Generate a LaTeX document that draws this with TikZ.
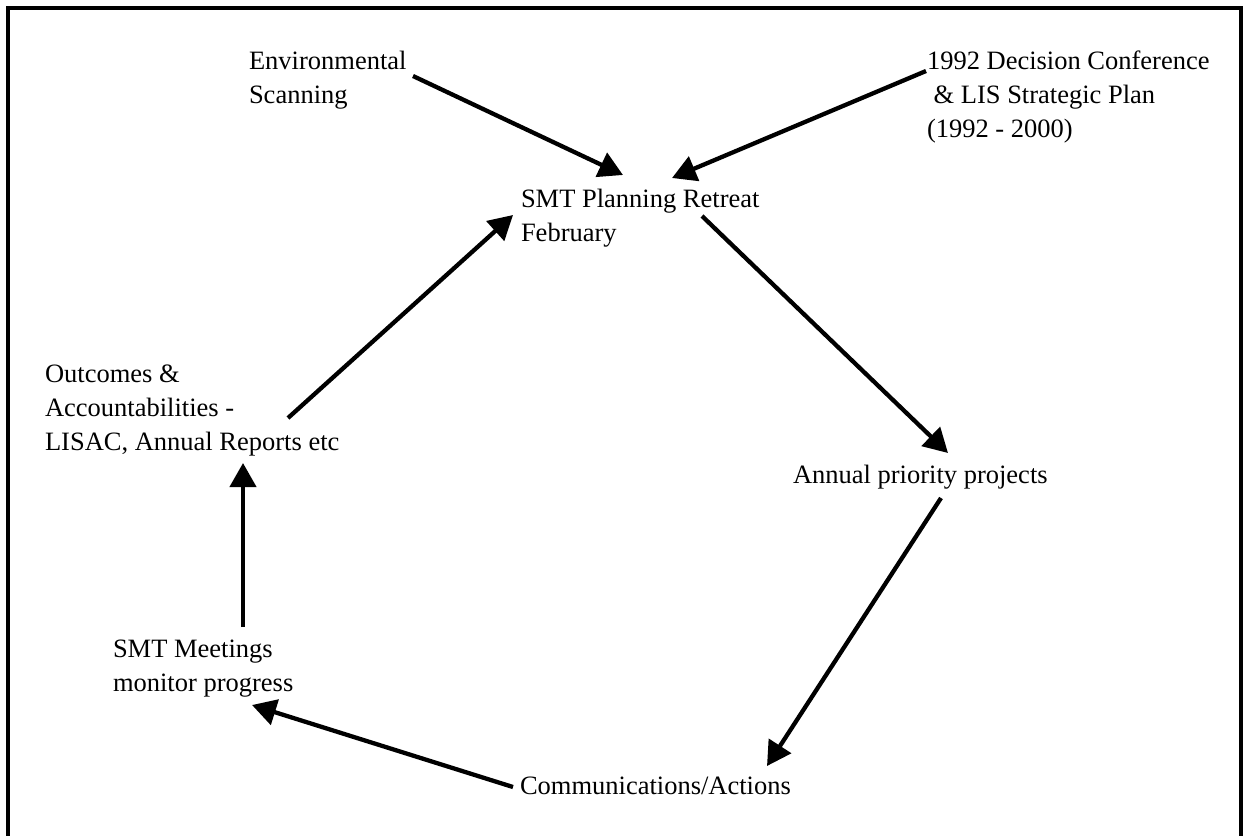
\documentclass[tikz,border=0pt]{standalone}
\usepackage{fontspec}
\setmainfont{Liberation Serif}
\usetikzlibrary{arrows.meta}
\begin{document}
\begin{tikzpicture}[x=1pt,y=-1pt,
  lbl/.style={anchor=base west,inner sep=0pt,outer sep=0pt,align=left,
    font=\fontsize{26.5}{34}\selectfont},
  flow/.style={line width=4.3pt,-{Triangle[length=24pt,width=26pt]}},
  frame/.style={line width=4pt}]
  \useasboundingbox (0,0) rectangle (1249,835);
  \clip (0,0) rectangle (1249,835);
  % open frame around the cycle
  \draw[frame] (8,850) -- (8,8) -- (1240.5,8) -- (1240.5,850);

  % labels (each placed at the baseline of its last line)
  \node[lbl] (env) at (249,103) {Environmental\\Scanning};
  \node[lbl] (dec) at (927,137)
    {1992 Decision Conference\\\hspace*{0.25em}\& LIS Strategic Plan\\(1992 - 2000)};
  \node[lbl] (smt) at (521,241) {SMT Planning Retreat\\February};
  \node[lbl] (ann) at (793,483) {Annual priority projects};
  \node[lbl] (com) at (520,794) {Communications/Actions};
  \node[lbl] (mtg) at (113,691) {SMT Meetings\\monitor progress};
  \node[lbl] (out) at (45,450) {Outcomes \&\\Accountabilities -\\LISAC, Annual Reports etc};

  % connectors
  \draw[flow] ([shift={(164,-27)}]env.base west) -- ([shift={(102,-66)}]smt.base west);
  \draw[flow] ([shift={(-1,-66)}]dec.base west) -- ([shift={(151,-63)}]smt.base west);
  \draw[flow] ([shift={(181,-25)}]smt.base west) -- ([shift={(155,-30)}]ann.base west);
  \draw[flow] ([shift={(148,15)}]ann.base west) -- ([shift={(247,-28)}]com.base west);
  \draw[flow] ([shift={(-7,-7)}]com.base west) -- ([shift={(139,14)}]mtg.base west);
  \draw[flow] ([shift={(130,-64)}]mtg.base west) -- ([shift={(198,13)}]out.base west);
  \draw[flow] ([shift={(243,-32)}]out.base west) -- ([shift={(-8,-26)}]smt.base west);
\end{tikzpicture}
\end{document}
